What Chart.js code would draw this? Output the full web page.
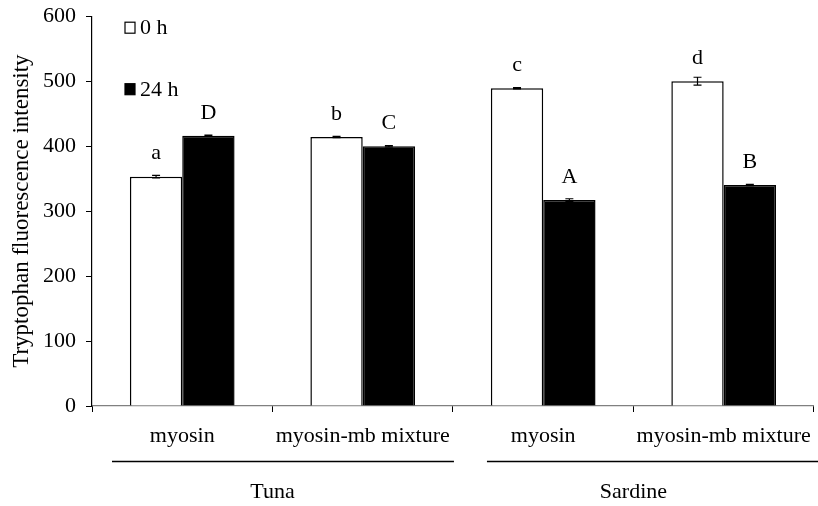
<!DOCTYPE html>
<html><head><meta charset="utf-8">
<script src="https://cdn.jsdelivr.net/npm/chart.js@4.4.0/dist/chart.umd.min.js"></script>
<style>html,body{margin:0;padding:0;background:#fff;overflow:hidden}#wrap{width:818px;height:506px;overflow:hidden;position:relative}#c{position:absolute;left:0;top:-7px}</style>
</head><body><div id="wrap"><canvas id="c" width="822" height="513"></canvas></div>
<script>
const categories = ["myosin", "myosin-mb mixture", "myosin", "myosin-mb mixture"];
const groups = ["Tuna", "Sardine"];
const seriesNames = ["0 h", "24 h"];
const values0h = [353, 414, 489, 500];
const values24h = [416, 400, 317, 340];
const err0h = [2, 1, 1, 6];
const err24h = [1, 1, 2, 1];
const letters0h = ["a", "b", "c", "d"];
const letters24h = ["D", "C", "A", "B"];
const yTicks = [0, 100, 200, 300, 400, 500, 600];

const FONT = "'Liberation Serif', 'Times New Roman', serif";
const FS = 22;

const overlay = {
  id: 'overlay',
  afterDatasetsDraw(chart) {
    const ctx = chart.ctx;
    const y = chart.scales.y;
    const x = chart.scales.x;
    const ca = chart.chartArea;
    ctx.save();
    chart.data.datasets.forEach((ds, di) => {
      const meta = chart.getDatasetMeta(di);
      meta.data.forEach((bar, i) => {
        const v = ds.data[i], e = ds.err[i];
        const yt = y.getPixelForValue(v + e), yb = y.getPixelForValue(v - e);
        ctx.strokeStyle = '#000';
        ctx.lineWidth = 1.2;
        ctx.beginPath();
        ctx.moveTo(bar.x, yt); ctx.lineTo(bar.x, yb);
        ctx.moveTo(bar.x - 4, yt); ctx.lineTo(bar.x + 4, yt);
        ctx.moveTo(bar.x - 4, yb); ctx.lineTo(bar.x + 4, yb);
        ctx.stroke();
        ctx.fillStyle = '#000';
        ctx.font = FS + 'px ' + FONT;
        ctx.textAlign = 'center';
        ctx.textBaseline = 'middle';
        ctx.fillText(ds.letters[i], bar.x, y.getPixelForValue(v) - 23);
      });
    });
    // legend
    const lx = 125;
    const legendY = [ca.top + 11.5, ca.top + 73];
    chart.data.datasets.forEach((ds, di) => {
      ctx.fillStyle = ds.backgroundColor;
      ctx.fillRect(lx, legendY[di] - 5.5, 10, 11);
      ctx.strokeStyle = '#000'; ctx.lineWidth = 1.2;
      ctx.strokeRect(lx, legendY[di] - 5.5, 10, 11);
      ctx.fillStyle = '#000';
      ctx.font = FS + 'px ' + FONT;
      ctx.textAlign = 'left'; ctx.textBaseline = 'middle';
      ctx.fillText(ds.label, lx + 15, legendY[di] + 1);
    });
    // group lines and labels
    const half = (x.getPixelForValue(1) - x.getPixelForValue(0)) / 2;
    groups.forEach((g, gi) => {
      const c0 = x.getPixelForValue(gi * 2), c1 = x.getPixelForValue(gi * 2 + 1);
      const mid = (c0 + c1) / 2;
      ctx.strokeStyle = '#000'; ctx.lineWidth = 1.5;
      ctx.beginPath();
      ctx.moveTo(c0 - half + (gi === 0 ? 20 : 34), ca.bottom + 55.5);
      ctx.lineTo(c1 + half + (gi === 0 ? 1 : 6), ca.bottom + 55.5);
      ctx.stroke();
      ctx.fillStyle = '#000';
      ctx.font = FS + 'px ' + FONT;
      ctx.textAlign = 'center'; ctx.textBaseline = 'middle';
      ctx.fillText(g, mid, ca.bottom + 86);
    });
    ctx.restore();
  }
};

new Chart(document.getElementById('c'), {
  type: 'bar',
  data: {
    labels: categories,
    datasets: [
      { label: seriesNames[0], data: values0h, err: err0h, letters: letters0h,
        backgroundColor: '#ffffff', borderColor: '#000', borderWidth: 1.5, borderSkipped: 'bottom' },
      { label: seriesNames[1], data: values24h, err: err24h, letters: letters24h,
        backgroundColor: '#000000', borderColor: '#000', borderWidth: 1.5, borderSkipped: 'bottom' }
    ]
  },
  options: {
    responsive: false,
    animation: false,
    devicePixelRatio: 1,
    layout: { padding: { top: 6, right: 2, left: 0, bottom: 0 } },
    plugins: { legend: { display: false }, tooltip: { enabled: false } },
    datasets: { bar: { categoryPercentage: 0.58, barPercentage: 1.0 } },
    scales: {
      x: {
        offset: true,
        grid: { display: true, drawOnChartArea: false, drawTicks: true, tickLength: 6, offset: true, color: '#000', lineWidth: 1 },
        border: { display: true, color: '#808080', width: 1.2 },
        ticks: { color: '#000', font: { family: FONT, size: FS }, padding: 11, maxRotation: 0, autoSkip: false },
        afterFit(s) { s.height = 100; }
      },
      y: {
        min: 0, max: 600,
        afterBuildTicks(s) { s.ticks = yTicks.map(v => ({ value: v })); },
        grid: { display: true, drawOnChartArea: false, drawTicks: true, tickLength: 6, color: '#000', lineWidth: 1 },
        border: { display: true, color: '#000', width: 1.2 },
        ticks: { color: '#000', font: { family: FONT, size: FS }, padding: 10 },
        title: { display: true, text: 'Tryptophan fluorescence intensity', color: '#000', font: { family: FONT, size: 23 }, padding: { top: 8, bottom: 0 } },
        afterFit(s) { s.width = 92; }
      }
    }
  },
  plugins: [overlay]
});
</script>
</body></html>
